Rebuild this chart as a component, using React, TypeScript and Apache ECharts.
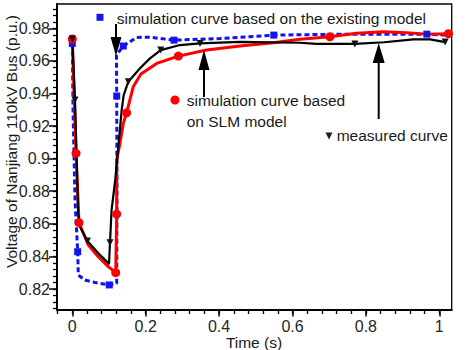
import React, { useEffect, useRef } from 'react';
import * as echarts from 'echarts';

// Simulation curve based on the existing model (blue dashed)
const existingModel: [number, number][] = [
  [0, 0.9708], [0.002, 0.93], [0.0074, 0.8746], [0.0147, 0.8429], [0.0163, 0.8286],
  [0.0346, 0.8255], [0.062, 0.824], [0.1008, 0.8225], [0.121, 0.8235], [0.1218, 0.8746],
  [0.121, 0.9385], [0.1204, 0.9636], [0.139, 0.9692], [0.1755, 0.9745], [0.2117, 0.9746],
  [0.277, 0.9728], [0.402, 0.9738], [0.549, 0.9759], [0.757, 0.9765], [0.966, 0.9765],
  [1.02, 0.9759],
];
const existingMarkers: [number, number][] = [
  [0, 0.9708], [0.0147, 0.8429], [0.1008, 0.8225], [0.121, 0.9385], [0.139, 0.9692],
  [0.277, 0.9728], [0.549, 0.9759], [0.966, 0.9765],
];

// Simulation curve based on SLM model (red)
const slmModel: [number, number][] = [
  [0, 0.9735], [0.0101, 0.9033], [0.0183, 0.8607], [0.0436, 0.847], [0.0708, 0.8398],
  [0.098, 0.8337], [0.1183, 0.83], [0.121, 0.866], [0.121, 0.8992], [0.13, 0.9096],
  [0.139, 0.9217], [0.148, 0.9282], [0.166, 0.9442], [0.187, 0.952], [0.23, 0.9585],
  [0.289, 0.963], [0.366, 0.9667], [0.457, 0.9692], [0.548, 0.9712], [0.62, 0.9733],
  [0.702, 0.9749], [0.775, 0.977], [0.847, 0.978], [0.911, 0.9773], [0.966, 0.9765],
  [1.025, 0.9768],
];
const slmMarkers: [number, number][] = [
  [0, 0.9735], [0.0101, 0.9033], [0.0183, 0.8607], [0.1183, 0.83], [0.121, 0.866],
  [0.148, 0.9282], [0.289, 0.963], [0.702, 0.9749], [1.025, 0.9768],
];

// Measured curve (black)
const measured: [number, number][] = [
  [0, 0.9735], [0.0074, 0.936], [0.016, 0.8666], [0.021, 0.8582], [0.041, 0.8495],
  [0.071, 0.8419], [0.094, 0.8368], [0.1, 0.8353], [0.1027, 0.8484], [0.107, 0.8685],
  [0.117, 0.887], [0.1346, 0.93], [0.14, 0.939], [0.1526, 0.9473], [0.1845, 0.9555],
  [0.2117, 0.9616], [0.241, 0.9667], [0.2935, 0.9698], [0.348, 0.9708], [0.457, 0.9718],
  [0.62, 0.9712], [0.665, 0.9705], [0.77, 0.9705], [0.85, 0.9715], [0.929, 0.9733],
  [0.975, 0.9733], [1.016, 0.9716],
];
const measuredMarkers: [number, number][] = [
  [0, 0.9735], [0.0074, 0.936], [0.041, 0.8495], [0.1027, 0.8484], [0.1526, 0.9473],
  [0.241, 0.9667], [0.348, 0.9708], [0.77, 0.9705], [1.016, 0.9716],
];

const FONT = '"Liberation Sans", Arial, Helvetica, sans-serif';
const TXT = '#1a1a1a';

export default function App() {
  const ref = useRef<HTMLDivElement>(null);
  useEffect(() => {
    document.body.style.margin = '0';
    const chart = echarts.init(ref.current!, null, { renderer: 'svg' });
    const hidden = { show: false, min: 0, max: 1, axisLine: { onZero: false } };
    const option: any = {
      animation: false,
      backgroundColor: '#fff',
      grid: [
        { left: 57, right: 14.3, top: 4, bottom: 40, show: true, borderColor: '#000', borderWidth: 1.3, backgroundColor: 'transparent' },
        { left: 57.6, right: 26.7, top: 4, bottom: 40 },
        { left: 57, right: 14.3, top: 8.8, bottom: 41.5 },
        { left: 72.3, right: 26.7, top: 4, bottom: 40 },
        { left: 57, right: 14.3, top: 28.3, bottom: 61 },
      ],
      xAxis: [
        {
          gridIndex: 0, type: 'value', min: -0.0417, max: 1.0338,
          axisLine: { show: true, onZero: false, lineStyle: { color: '#000', width: 2 } },
          axisTick: { show: false }, axisLabel: { show: false }, splitLine: { show: false },
        },
        {
          gridIndex: 1, type: 'value', min: -0.04, max: 1.0, interval: 0.04,
          axisLine: { show: false, onZero: false },
          axisTick: { show: true, length: 4, lineStyle: { color: '#000', width: 1.3 } },
          axisLabel: { show: false }, splitLine: { show: false },
        },
        { gridIndex: 2, type: 'value', ...hidden },
        {
          gridIndex: 3, type: 'value', min: 0, max: 1, interval: 0.2,
          axisLine: { show: false, onZero: false },
          axisTick: { show: true, length: 6.5, lineStyle: { color: '#000', width: 1.5 } },
          axisLabel: { show: true, margin: 8, fontSize: 16, color: '#262626', fontFamily: FONT },
          splitLine: { show: false },
        },
        { gridIndex: 4, type: 'value', ...hidden },
      ],
      yAxis: [
        {
          gridIndex: 0, type: 'value', min: 0.8071, max: 0.995,
          axisLine: { show: true, onZero: false, lineStyle: { color: '#000', width: 2 } },
          axisTick: { show: false }, axisLabel: { show: false }, splitLine: { show: false },
        },
        { gridIndex: 1, type: 'value', ...hidden },
        {
          gridIndex: 2, type: 'value', min: 0.808, max: 0.992, interval: 0.004,
          axisLine: { show: false, onZero: false },
          axisTick: { show: true, length: 4, lineStyle: { color: '#000', width: 1.3 } },
          axisLabel: { show: false }, splitLine: { show: false },
        },
        { gridIndex: 3, type: 'value', ...hidden },
        {
          gridIndex: 4, type: 'value', min: 0.82, max: 0.98, interval: 0.02,
          axisLine: { show: false, onZero: false },
          axisTick: { show: true, length: 8, lineStyle: { color: '#000', width: 1.5 } },
          axisLabel: { show: true, margin: 7, fontSize: 16, color: '#262626', fontFamily: FONT },
          splitLine: { show: false },
        },
      ],
      series: [
        {
          type: 'line', name: 'existing', data: existingModel, xAxisIndex: 0, yAxisIndex: 0,
          symbol: 'none', showSymbol: false, z: 2,
          lineStyle: { color: '#1212ee', width: 3, type: [5, 3] },
        },
        {
          type: 'line', name: 'slm', data: slmModel, xAxisIndex: 0, yAxisIndex: 0,
          symbol: 'none', showSymbol: false, z: 3,
          lineStyle: { color: '#ff0000', width: 3 },
        },
        {
          type: 'line', name: 'measured', data: measured, xAxisIndex: 0, yAxisIndex: 0,
          symbol: 'none', showSymbol: false, z: 4,
          lineStyle: { color: '#000', width: 2.2 },
        },
        {
          type: 'scatter', data: existingMarkers, xAxisIndex: 0, yAxisIndex: 0,
          symbol: 'rect', symbolSize: 7, itemStyle: { color: '#1414f0', opacity: 1 }, z: 5,
        },
        {
          type: 'scatter', data: slmMarkers, xAxisIndex: 0, yAxisIndex: 0,
          symbol: 'circle', symbolSize: 9, itemStyle: { color: '#ff0000', opacity: 1 }, z: 6,
        },
        {
          type: 'scatter', data: measuredMarkers, xAxisIndex: 0, yAxisIndex: 0,
          symbol: 'triangle', symbolRotate: 180, symbolSize: 7, itemStyle: { color: '#111', opacity: 1 }, z: 7,
        },
      ],
      graphic: [
        {
          type: 'text', x: 11, y: 141.5, rotation: Math.PI / 2,
          style: { text: 'Voltage of Nanjiang 110kV Bus (p.u.)', font: `15.5px ${FONT}`, fill: TXT, align: 'center', verticalAlign: 'middle' },
        },
        {
          type: 'text', x: 254, y: 342.5,
          style: { text: 'Time (s)', font: `15.5px ${FONT}`, fill: TXT, align: 'center', verticalAlign: 'middle' },
        },
        // legend-like annotations
        { type: 'rect', shape: { x: 96.5, y: 13.8, width: 7, height: 7 }, style: { fill: '#1414f0' }, z: 10 },
        {
          type: 'text', x: 116.7, y: 18,
          style: { text: 'simulation curve based on the existing model', font: `15.5px ${FONT}`, fill: TXT, align: 'left', verticalAlign: 'middle' }, z: 10,
        },
        { type: 'circle', shape: { cx: 175, cy: 100, r: 4.5 }, style: { fill: '#ff0000' }, z: 10 },
        {
          type: 'text', x: 186.7, y: 100,
          style: { text: 'simulation curve based', font: `15.5px ${FONT}`, fill: TXT, align: 'left', verticalAlign: 'middle' }, z: 10,
        },
        {
          type: 'text', x: 186.7, y: 121,
          style: { text: 'on SLM model', font: `15.5px ${FONT}`, fill: TXT, align: 'left', verticalAlign: 'middle' }, z: 10,
        },
        { type: 'polygon', shape: { points: [[325.5, 132.5], [332.5, 132.5], [329, 139.5]] }, style: { fill: '#2a1a2a' }, z: 10 },
        {
          type: 'text', x: 336.7, y: 135.5,
          style: { text: 'measured curve', font: `15.5px ${FONT}`, fill: TXT, align: 'left', verticalAlign: 'middle' }, z: 10,
        },
        // arrows
        { type: 'line', shape: { x1: 116, y1: 24, x2: 116, y2: 45 }, style: { stroke: '#000', lineWidth: 2 }, z: 10 },
        { type: 'polygon', shape: { points: [[110.5, 37], [121.5, 37], [116, 56]] }, style: { fill: '#000' }, z: 10 },
        { type: 'line', shape: { x1: 204, y1: 97, x2: 204, y2: 62 }, style: { stroke: '#000', lineWidth: 2 }, z: 10 },
        { type: 'polygon', shape: { points: [[198.5, 70], [209.5, 70], [204, 50]] }, style: { fill: '#000' }, z: 10 },
        { type: 'line', shape: { x1: 378.7, y1: 119, x2: 378.7, y2: 55 }, style: { stroke: '#000', lineWidth: 2 }, z: 10 },
        { type: 'polygon', shape: { points: [[372.7, 63], [384.7, 63], [378.7, 43]] }, style: { fill: '#000' }, z: 10 },
      ],
    };
    chart.setOption(option);
    return () => chart.dispose();
  }, []);
  return <div ref={ref} style={{ width: 466, height: 350 }} />;
}
